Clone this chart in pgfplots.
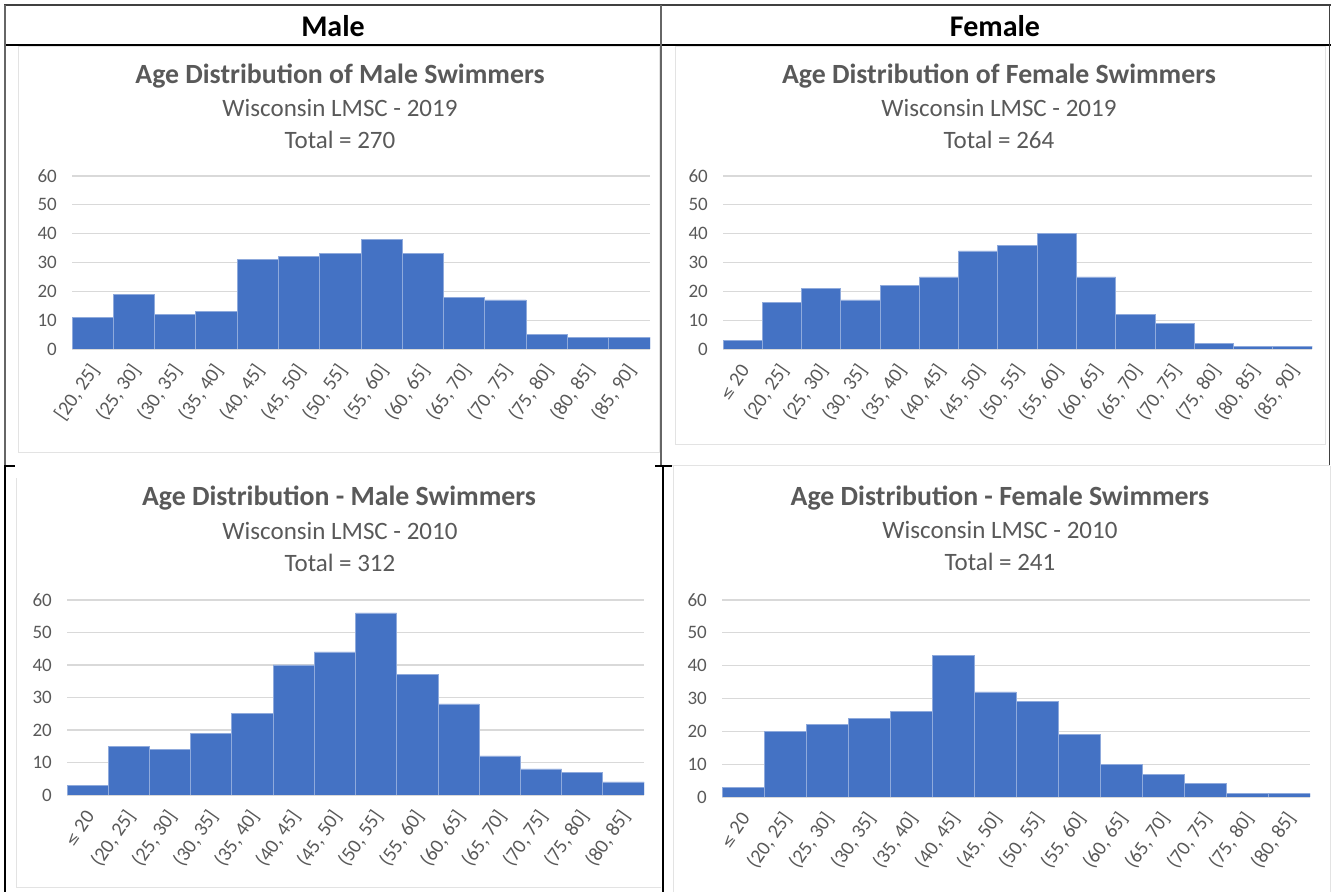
\documentclass[border=0pt]{standalone}
\usepackage{fontspec}
\setmainfont{Carlito}
\newfontfamily\dejavu{DejaVu Sans}
\usepackage{pgfplots}
\pgfplotsset{compat=1.18}
\definecolor{barc}{HTML}{4472C4}
\definecolor{baredge}{HTML}{8FAADC}
\definecolor{gridc}{HTML}{D9D9D9}
\definecolor{txt}{HTML}{595959}
\definecolor{frame}{HTML}{E3E3E3}
\pgfplotsset{hist/.style={
  scale only axis,
  ymin=0, ymax=60, ytick={0,10,...,60},
  enlarge x limits=false, enlarge y limits=false,
  ymajorgrids, grid style={draw=gridc, line width=1.2pt},
  axis line style={draw=none},
  major tick length=0pt,
  tick style={draw=none},
  xmin=-0.5,
  ticklabel style={font=\fontsize{19}{19}\selectfont, text=txt},
  /pgf/number format/assume math mode=true,
  xticklabel style={yshift=-17pt, xshift=3pt, rotate=55, anchor=east, inner sep=1pt, font=\fontsize{20}{20}\selectfont},
  yticklabel style={inner sep=2pt, xshift=-13pt},
  anchor=south west,
}}
\tikzset{titl/.style={font=\bfseries\fontsize{27.8}{27.8}\selectfont, text=txt},
         sub/.style={font=\fontsize{25}{25}\selectfont, text=txt}}
\pgfplotsset{histbar/.style={ybar, bar width=1, bar shift=0pt, fill=barc, draw=baredge, line width=0.8pt}}
\newcommand{\lesym}{{\dejavu\fontsize{15}{15}\selectfont ≤}}
\begin{document}
\begin{tikzpicture}
\path (0,0) rectangle (1332pt,892pt);
% chart area borders
\draw[frame, line width=1pt] (18pt,845pt) rectangle (659pt,439pt);
\draw[frame, line width=1pt] (675pt,845pt) rectangle (1325pt,447pt);
\draw[frame, line width=1pt] (16pt,414pt) -- (16pt,4pt) -- (661pt,4pt);
\draw[frame, line width=1pt] (661pt,426pt) -- (1330pt,426pt);
\draw[frame, line width=1pt] (673pt,426pt) -- (673pt,0pt);
\draw[frame, line width=1pt] (1330pt,426pt) -- (1330pt,0pt);
% table lines
\draw[black!75, line width=1.5pt] (4pt,887pt) -- (1331pt,887pt);
\draw[black, line width=2pt] (4pt,847pt) -- (1331pt,847pt);
\draw[black!60, line width=1.5pt] (5pt,887pt) -- (5pt,427pt);
\draw[black, line width=1.5pt] (5pt,427pt) -- (5pt,0pt);
\draw[black!60, line width=1.5pt] (661pt,887pt) -- (661pt,427pt);
\draw[black, line width=1.5pt] (663pt,427pt) -- (663pt,0pt);
\draw[black!75, line width=1.5pt] (1329.5pt,887pt) -- (1329.5pt,427pt);
\draw[black, line width=1.2pt] (4pt,426pt) -- (15pt,426pt);
\draw[black, line width=1.2pt] (655pt,426pt) -- (672pt,426pt);
% header
\node[font=\bfseries\fontsize{30}{30}\selectfont] at (333pt,866pt) {Male};
\node[font=\bfseries\fontsize{30}{30}\selectfont] at (995pt,866pt) {Female};
% titles
\node[titl] at (340pt,816pt) {Age Distribution of Male Swimmers};
\node[sub] at (340pt,784pt) {Wisconsin LMSC - 2019};
\node[sub] at (340pt,752pt) {Total = 270};
\node[titl] at (999pt,816pt) {Age Distribution of Female Swimmers};
\node[sub] at (999pt,784pt) {Wisconsin LMSC - 2019};
\node[sub] at (999pt,752pt) {Total = 264};
\node[titl] at (339pt,394pt) {Age Distribution - Male Swimmers};
\node[sub] at (340pt,361pt) {Wisconsin LMSC - 2010};
\node[sub] at (340pt,329pt) {Total = 312};
\node[titl] at (1000pt,394pt) {Age Distribution - Female Swimmers};
\node[sub] at (1000pt,362pt) {Wisconsin LMSC - 2010};
\node[sub] at (1000pt,330pt) {Total = 241};

% top-left: Male 2019
\begin{axis}[hist, at={(72pt,543pt)}, width=578pt, height=173pt, xmax=13.5,
  xtick={0,...,13},
  xticklabels={{[20, 25]},{(25, 30]},{(30, 35]},{(35, 40]},{(40, 45]},{(45, 50]},{(50, 55]},{(55, 60]},{(60, 65]},{(65, 70]},{(70, 75]},{(75, 80]},{(80, 85]},{(85, 90]}}]
\addplot[histbar] coordinates {(0,11) (1,19) (2,12) (3,13) (4,31) (5,32) (6,33) (7,38) (8,33) (9,18) (10,17) (11,5) (12,4) (13,4)};
\end{axis}
% top-right: Female 2019
\begin{axis}[hist, at={(723pt,543pt)}, width=589pt, height=173pt, xmax=14.5,
  xtick={0,...,14},
  xticklabels={{\lesym{} 20},{(20, 25]},{(25, 30]},{(30, 35]},{(35, 40]},{(40, 45]},{(45, 50]},{(50, 55]},{(55, 60]},{(60, 65]},{(65, 70]},{(70, 75]},{(75, 80]},{(80, 85]},{(85, 90]}}]
\addplot[histbar] coordinates {(0,3) (1,16) (2,21) (3,17) (4,22) (5,25) (6,34) (7,36) (8,40) (9,25) (10,12) (11,9) (12,2) (13,1) (14,1)};
\end{axis}
% bottom-left: Male 2010
\begin{axis}[hist, at={(67pt,97pt)}, width=577pt, height=195pt, xmax=13.5,
  xtick={0,...,13},
  xticklabels={{\lesym{} 20},{(20, 25]},{(25, 30]},{(30, 35]},{(35, 40]},{(40, 45]},{(45, 50]},{(50, 55]},{(55, 60]},{(60, 65]},{(65, 70]},{(70, 75]},{(75, 80]},{(80, 85]}}]
\addplot[histbar] coordinates {(0,3) (1,15) (2,14) (3,19) (4,25) (5,40) (6,44) (7,56) (8,37) (9,28) (10,12) (11,8) (12,7) (13,4)};
\end{axis}
% bottom-right: Female 2010
\begin{axis}[hist, at={(722pt,95pt)}, width=588pt, height=197pt, xmax=13.5,
  xtick={0,...,13},
  xticklabels={{\lesym{} 20},{(20, 25]},{(25, 30]},{(30, 35]},{(35, 40]},{(40, 45]},{(45, 50]},{(50, 55]},{(55, 60]},{(60, 65]},{(65, 70]},{(70, 75]},{(75, 80]},{(80, 85]}}]
\addplot[histbar] coordinates {(0,3) (1,20) (2,22) (3,24) (4,26) (5,43) (6,32) (7,29) (8,19) (9,10) (10,7) (11,4) (12,1) (13,1)};
\end{axis}
\end{tikzpicture}
\end{document}
